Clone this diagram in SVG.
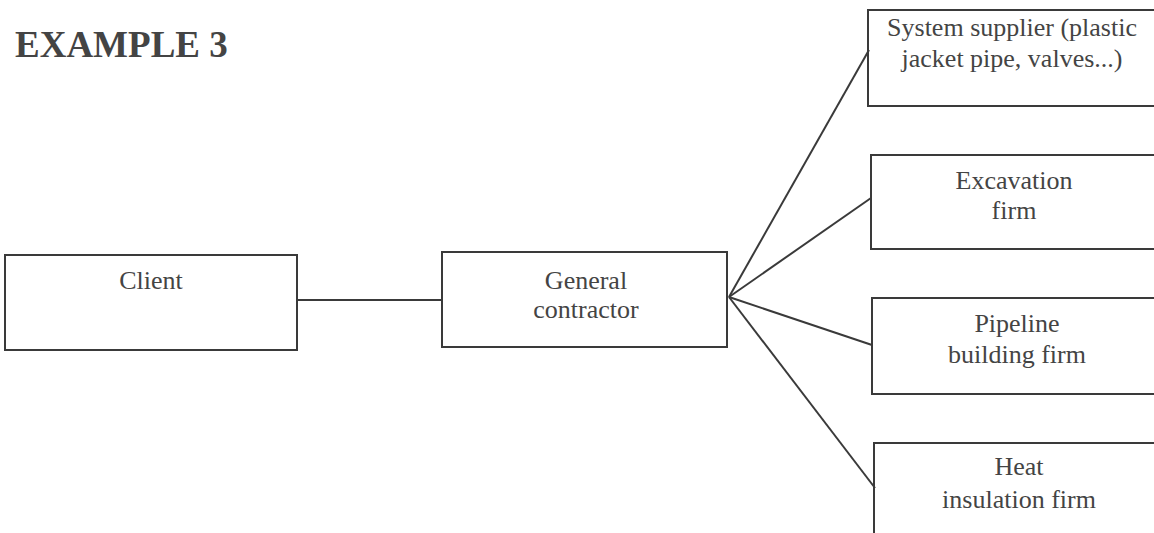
<svg xmlns="http://www.w3.org/2000/svg" width="1154" height="533" viewBox="0 0 1154 533">
<style>
.box{fill:none;stroke:#3a3a3a;stroke-width:2}
.t{font-family:"Liberation Serif","Times New Roman",serif;font-size:26px;fill:#444;text-anchor:middle}
.title{font-family:"Liberation Serif","Times New Roman",serif;font-size:37px;font-weight:bold;fill:#444}
.c{stroke:#3a3a3a;stroke-width:2;fill:none}
</style>
<rect width="1154" height="533" fill="#fff"/>
<text class="title" x="15" y="57">EXAMPLE 3</text>
<g id="connectors">
<line class="c" x1="297" y1="300" x2="442" y2="300"/>
<line class="c" x1="729" y1="297" x2="869" y2="50"/>
<line class="c" x1="729" y1="297" x2="871" y2="198"/>
<line class="c" x1="729" y1="297" x2="872" y2="345"/>
<line class="c" x1="729" y1="297" x2="875" y2="488"/>
</g>
<g id="client">
<rect class="box" x="5" y="255" width="292" height="95"/>
<text class="t" x="151" y="289">Client</text>
</g>
<g id="general">
<rect class="box" x="442" y="252" width="285" height="95"/>
<text class="t" x="586" y="289">General</text>
<text class="t" x="586" y="318">contractor</text>
</g>
<g id="supplier">
<rect class="box" x="868" y="10" width="300" height="96"/>
<text class="t" x="1012" y="36">System supplier (plastic</text>
<text class="t" x="1012" y="67">jacket pipe, valves...)</text>
</g>
<g id="excavation">
<rect class="box" x="871" y="155" width="300" height="94"/>
<text class="t" x="1014" y="189">Excavation</text>
<text class="t" x="1014" y="219">firm</text>
</g>
<g id="pipeline">
<rect class="box" x="872" y="298" width="300" height="96"/>
<text class="t" x="1017" y="332">Pipeline</text>
<text class="t" x="1017" y="363">building firm</text>
</g>
<g id="heat">
<rect class="box" x="874" y="443" width="300" height="120"/>
<text class="t" x="1019" y="475">Heat</text>
<text class="t" x="1019" y="508">insulation firm</text>
</g>
</svg>
